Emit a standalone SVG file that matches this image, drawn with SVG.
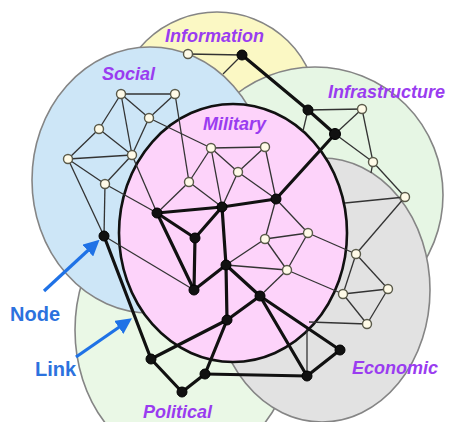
<svg xmlns="http://www.w3.org/2000/svg" width="450" height="422" viewBox="0 0 450 422">
<defs>
<style>
.layer{stroke:#858585;stroke-width:1.6}
.mil{stroke:#111;stroke-width:2.6}
.thin{stroke:#333;stroke-width:1.3;fill:none}
.thick{stroke:#111;stroke-width:3.2;fill:none;stroke-linecap:round}
.wn{fill:#fffbe8;stroke:#5a5a4a;stroke-width:1.4}
.bn{fill:#111;stroke:#000;stroke-width:1}
.lbl{font-family:"Liberation Sans",Arial,sans-serif;font-weight:bold;font-style:italic;font-size:18px;fill:#9a3cf0}
.ann{font-family:"Liberation Sans",Arial,sans-serif;font-weight:bold;font-size:20px;fill:#2c72de}
.arrow{stroke:#1f72e6;stroke-width:3.2;fill:none}
</style>
<marker id="ah" markerWidth="5" markerHeight="5" refX="3.5" refY="2.5" orient="auto" markerUnits="strokeWidth">
<path d="M0,0 L5,2.5 L0,5 Z" fill="#1f72e6"/>
</marker>
</defs>
<rect width="450" height="422" fill="#ffffff"/>
<g id="layers">
<ellipse id="layer-information" class="layer" cx="217" cy="110" rx="100" ry="98" fill="#fbf8c4"/>
<ellipse id="layer-infrastructure" class="layer" cx="315" cy="195" rx="128" ry="128" fill="#e6f6e4"/>
<ellipse id="layer-political" class="layer" cx="185" cy="330" rx="110" ry="135" fill="#eaf8e6"/>
<ellipse id="layer-economic" class="layer" cx="322" cy="290" rx="108" ry="132" fill="#e2e2e2"/>
<ellipse id="layer-social" class="layer" cx="150" cy="180" rx="118" ry="133" fill="#cde6f7"/>
<ellipse id="layer-military" class="mil" cx="233" cy="233" rx="114" ry="129" fill="#fdd3fa"/>
</g>
<g id="connectors">
<g class="thin">
<line x1="188" y1="54" x2="242" y2="55"/>
<line x1="242" y1="55" x2="223" y2="74"/>
<line x1="121" y1="94" x2="175" y2="94"/>
<line x1="121" y1="94" x2="149" y2="118"/>
<line x1="121" y1="94" x2="99" y2="129"/>
<line x1="121" y1="94" x2="132" y2="155"/>
<line x1="149" y1="118" x2="175" y2="94"/>
<line x1="149" y1="118" x2="132" y2="155"/>
<line x1="99" y1="129" x2="68" y2="159"/>
<line x1="99" y1="129" x2="132" y2="155"/>
<line x1="68" y1="159" x2="132" y2="155"/>
<line x1="68" y1="159" x2="105" y2="184"/>
<line x1="132" y1="155" x2="105" y2="184"/>
<line x1="68" y1="159" x2="104" y2="236"/>
<line x1="105" y1="184" x2="104" y2="236"/>
<line x1="149" y1="118" x2="211" y2="148"/>
<line x1="175" y1="94" x2="189" y2="182"/>
<line x1="132" y1="155" x2="157" y2="213"/>
<line x1="105" y1="184" x2="157" y2="213"/>
<line x1="104" y1="236" x2="194" y2="290"/>
<line x1="211" y1="148" x2="265" y2="147"/>
<line x1="211" y1="148" x2="189" y2="182"/>
<line x1="211" y1="148" x2="238" y2="172"/>
<line x1="211" y1="148" x2="222" y2="207"/>
<line x1="265" y1="147" x2="238" y2="172"/>
<line x1="265" y1="147" x2="276" y2="199"/>
<line x1="238" y1="172" x2="222" y2="207"/>
<line x1="238" y1="172" x2="276" y2="199"/>
<line x1="189" y1="182" x2="157" y2="213"/>
<line x1="189" y1="182" x2="222" y2="207"/>
<line x1="265" y1="239" x2="308" y2="233"/>
<line x1="265" y1="239" x2="287" y2="270"/>
<line x1="308" y1="233" x2="287" y2="270"/>
<line x1="265" y1="239" x2="276" y2="199"/>
<line x1="308" y1="233" x2="276" y2="199"/>
<line x1="265" y1="239" x2="226" y2="265"/>
<line x1="287" y1="270" x2="226" y2="265"/>
<line x1="287" y1="270" x2="260" y2="296"/>
<line x1="287" y1="270" x2="343" y2="294"/>
<line x1="308" y1="233" x2="356" y2="254"/>
<line x1="308" y1="110" x2="362" y2="109"/>
<line x1="308" y1="110" x2="303" y2="131"/>
<line x1="335" y1="134" x2="362" y2="109"/>
<line x1="335" y1="134" x2="373" y2="162"/>
<line x1="362" y1="109" x2="373" y2="162"/>
<line x1="373" y1="162" x2="405" y2="197"/>
<line x1="373" y1="162" x2="371" y2="173"/>
<line x1="405" y1="197" x2="345" y2="203"/>
<line x1="405" y1="197" x2="356" y2="254"/>
<line x1="356" y1="254" x2="343" y2="294"/>
<line x1="356" y1="254" x2="388" y2="289"/>
<line x1="343" y1="294" x2="388" y2="289"/>
<line x1="343" y1="294" x2="367" y2="324"/>
<line x1="388" y1="289" x2="367" y2="324"/>
<line x1="367" y1="324" x2="309" y2="322"/>
<line x1="307" y1="376" x2="307" y2="329"/>
</g>
<g class="thick">
<line x1="242" y1="55" x2="308" y2="110"/>
<line x1="308" y1="110" x2="335" y2="134"/>
<line x1="335" y1="134" x2="276" y2="199"/>
<line x1="276" y1="199" x2="222" y2="207"/>
<line x1="222" y1="207" x2="157" y2="213"/>
<line x1="157" y1="213" x2="195" y2="238"/>
<line x1="222" y1="207" x2="195" y2="238"/>
<line x1="157" y1="213" x2="194" y2="290"/>
<line x1="195" y1="238" x2="194" y2="290"/>
<line x1="194" y1="290" x2="226" y2="265"/>
<line x1="222" y1="207" x2="226" y2="265"/>
<line x1="226" y1="265" x2="260" y2="296"/>
<line x1="226" y1="265" x2="227" y2="320"/>
<line x1="260" y1="296" x2="227" y2="320"/>
<line x1="227" y1="320" x2="151" y2="359"/>
<line x1="227" y1="320" x2="205" y2="374"/>
<line x1="260" y1="296" x2="340" y2="350"/>
<line x1="260" y1="296" x2="307" y2="376"/>
<line x1="340" y1="350" x2="307" y2="376"/>
<line x1="205" y1="374" x2="307" y2="376"/>
<line x1="151" y1="359" x2="182" y2="392"/>
<line x1="182" y1="392" x2="205" y2="374"/>
<line x1="104" y1="236" x2="151" y2="359"/>
</g>
</g>
<g id="nodes">
<g id="n-info-1"><circle class="wn" cx="188" cy="54" r="4.5"/></g>
<g id="n-info-2"><circle class="bn" cx="242" cy="55" r="5"/></g>
<g id="n-soc-1"><circle class="wn" cx="121" cy="94" r="4.5"/></g>
<g id="n-soc-2"><circle class="wn" cx="175" cy="94" r="4.5"/></g>
<g id="n-soc-3"><circle class="wn" cx="149" cy="118" r="4.5"/></g>
<g id="n-soc-4"><circle class="wn" cx="99" cy="129" r="4.5"/></g>
<g id="n-soc-5"><circle class="wn" cx="68" cy="159" r="4.5"/></g>
<g id="n-soc-6"><circle class="wn" cx="132" cy="155" r="4.5"/></g>
<g id="n-soc-7"><circle class="wn" cx="105" cy="184" r="4.5"/></g>
<g id="n-soc-8"><circle class="bn" cx="104" cy="236" r="5"/></g>
<g id="n-mil-1"><circle class="wn" cx="211" cy="148" r="4.5"/></g>
<g id="n-mil-2"><circle class="wn" cx="265" cy="147" r="4.5"/></g>
<g id="n-mil-3"><circle class="wn" cx="238" cy="172" r="4.5"/></g>
<g id="n-mil-4"><circle class="wn" cx="189" cy="182" r="4.5"/></g>
<g id="n-mil-5"><circle class="wn" cx="265" cy="239" r="4.5"/></g>
<g id="n-mil-6"><circle class="wn" cx="308" cy="233" r="4.5"/></g>
<g id="n-mil-7"><circle class="wn" cx="287" cy="270" r="4.5"/></g>
<g id="n-mil-8"><circle class="bn" cx="157" cy="213" r="5"/></g>
<g id="n-mil-9"><circle class="bn" cx="222" cy="207" r="5"/></g>
<g id="n-mil-10"><circle class="bn" cx="195" cy="238" r="5"/></g>
<g id="n-mil-11"><circle class="bn" cx="276" cy="199" r="5"/></g>
<g id="n-mil-12"><circle class="bn" cx="226" cy="265" r="5"/></g>
<g id="n-mil-13"><circle class="bn" cx="194" cy="290" r="5"/></g>
<g id="n-mil-14"><circle class="bn" cx="260" cy="296" r="5"/></g>
<g id="n-mil-15"><circle class="bn" cx="227" cy="320" r="5"/></g>
<g id="n-inf-1"><circle class="bn" cx="308" cy="110" r="5"/></g>
<g id="n-inf-2"><circle class="bn" cx="335" cy="134" r="5.5"/></g>
<g id="n-inf-3"><circle class="wn" cx="362" cy="109" r="4.5"/></g>
<g id="n-inf-4"><circle class="wn" cx="373" cy="162" r="4.5"/></g>
<g id="n-inf-5"><circle class="wn" cx="405" cy="197" r="4.5"/></g>
<g id="n-eco-1"><circle class="wn" cx="356" cy="254" r="4.5"/></g>
<g id="n-eco-2"><circle class="wn" cx="343" cy="294" r="4.5"/></g>
<g id="n-eco-3"><circle class="wn" cx="388" cy="289" r="4.5"/></g>
<g id="n-eco-4"><circle class="wn" cx="367" cy="324" r="4.5"/></g>
<g id="n-eco-5"><circle class="bn" cx="340" cy="350" r="5"/></g>
<g id="n-eco-6"><circle class="bn" cx="307" cy="376" r="5"/></g>
<g id="n-pol-1"><circle class="bn" cx="151" cy="359" r="5"/></g>
<g id="n-pol-2"><circle class="bn" cx="205" cy="374" r="5"/></g>
<g id="n-pol-3"><circle class="bn" cx="182" cy="392" r="5"/></g>
</g>
<g id="labels">
<text class="lbl" x="165" y="42">Information</text>
<text class="lbl" x="102" y="80">Social</text>
<text class="lbl" x="203" y="130">Military</text>
<text class="lbl" x="328" y="98">Infrastructure</text>
<text class="lbl" x="352" y="374">Economic</text>
<text class="lbl" x="143" y="418">Political</text>
</g>
<g id="annotations">
<line class="arrow" x1="44" y1="291" x2="96" y2="243" marker-end="url(#ah)"/>
<line class="arrow" x1="76" y1="357" x2="128" y2="321" marker-end="url(#ah)"/>
<text class="ann" x="10" y="321">Node</text>
<text class="ann" x="35" y="376">Link</text>
</g>
</svg>
